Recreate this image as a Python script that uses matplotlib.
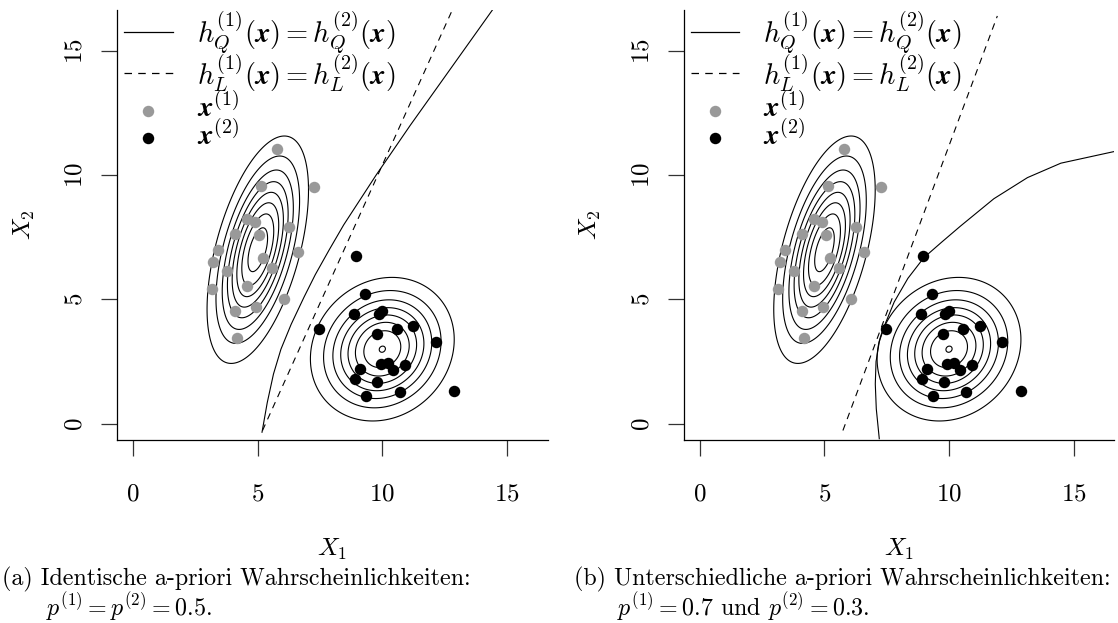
import numpy as np
import matplotlib.pyplot as plt

plt.rcParams['font.family'] = 'serif'
plt.rcParams['font.serif'] = ['cmr10']
plt.rcParams['mathtext.fontset'] = 'cm'
plt.rcParams['axes.formatter.use_mathtext'] = True
plt.rcParams['axes.unicode_minus'] = False

# two normal populations (mean, covariance) and the density levels drawn
mean1 = [5.0, 7.0]
cov1 = [[0.96, 1.13], [1.13, 4.84]]
mean2 = [10.0, 3.0]
cov2 = [[2.0, 0.27], [0.27, 2.0]]
levels = [0.01, 0.02, 0.03, 0.04, 0.05, 0.06, 0.07, 0.08]

# sample of group 1 (grey) and group 2 (black)
g1_x1 = [5.77, 7.26, 5.13, 4.56, 4.90, 6.27, 4.09, 5.05, 3.42, 6.60,
         3.22, 5.21, 5.57, 3.76, 3.15, 4.56, 6.06, 4.09, 4.93, 4.16]
g1_x2 = [11.06, 9.53, 9.58, 8.24, 8.10, 7.92, 7.65, 7.58, 6.99, 6.91,
         6.52, 6.65, 6.25, 6.15, 5.44, 5.55, 5.00, 4.53, 4.70, 3.45]
g2_x1 = [8.95, 9.30, 8.88, 9.85, 10.00, 7.45, 9.77, 10.57, 11.24, 12.14,
         9.93, 10.22, 10.44, 10.93, 9.12, 8.92, 9.79, 10.70, 9.35, 12.88]
g2_x2 = [6.75, 5.20, 4.40, 4.40, 4.55, 3.83, 3.63, 3.83, 3.94, 3.27,
         2.42, 2.44, 2.15, 2.38, 2.19, 1.81, 1.68, 1.27, 1.11, 1.30]

# decision boundaries, equal priors (a) and p = 0.7 / 0.3 (b)
qda_a_x = [5.17, 5.38, 5.63, 5.93, 6.34, 6.86, 7.31, 7.87, 8.45, 9.75,
           11.12, 14.42]
qda_a_y = [-0.34, 0.85, 2.00, 3.00, 4.00, 5.10, 6.00, 7.00, 8.00, 10.00,
           12.00, 16.64]
lda_a_x = [5.19, 12.81]
lda_a_y = [-0.27, 16.64]
qda_b_x = [7.20, 7.08, 7.04, 7.07, 7.20, 7.45, 7.80, 8.35, 8.99, 9.70,
           10.46, 11.80, 13.15, 14.49, 16.64]
qda_b_y = [-0.60, 0.60, 1.60, 2.50, 3.30, 4.05, 4.90, 5.85, 6.68, 7.30,
           7.95, 9.05, 9.90, 10.48, 10.95]
lda_b_x = [5.74, 11.94]
lda_b_y = [-0.27, 16.40]

ticks = [0, 5, 10, 15]
lims = (-0.64, 16.64)
captions = [
    ('(a) Identische a-priori Wahrscheinlichkeiten:',
     r'$p^{(1)} = p^{(2)} = 0.5$.'),
    ('(b) Unterschiedliche a-priori Wahrscheinlichkeiten:',
     r'$p^{(1)} = 0.7$ und $p^{(2)} = 0.3$.'),
]

grey = '#999999'
W, H = 1118, 623


def dnorm2(X, Y, mu, S):
    S = np.asarray(S)
    Si = np.linalg.inv(S)
    dx = X - mu[0]
    dy = Y - mu[1]
    q = Si[0, 0] * dx**2 + 2 * Si[0, 1] * dx * dy + Si[1, 1] * dy**2
    return np.exp(-q / 2) / (2 * np.pi * np.sqrt(np.linalg.det(S)))


g = np.linspace(lims[0], lims[1], 600)
GX, GY = np.meshgrid(g, g)
dens1 = dnorm2(GX, GY, mean1, cov1)
dens2 = dnorm2(GX, GY, mean2, cov2)


def panel(ax, qx, qy, lx, ly):
    ax.contour(GX, GY, dens1, levels=levels, colors='black', linewidths=0.8)
    ax.contour(GX, GY, dens2, levels=levels, colors='black', linewidths=0.8)
    ax.plot(qx, qy, color='black', lw=0.8)
    ax.plot(lx, ly, color='black', lw=0.8, dashes=(6, 5))
    ax.scatter(g1_x1, g1_x2, s=68, color=grey, linewidths=0, zorder=3)
    ax.scatter(g2_x1, g2_x2, s=68, color='black', linewidths=0, zorder=3)

    ax.set_xlim(lims)
    ax.set_ylim(lims)
    ax.set_xticks(ticks)
    ax.set_yticks(ticks)
    for s in ['top', 'right']:
        ax.spines[s].set_visible(False)
    for s in ['left', 'bottom']:
        ax.spines[s].set_linewidth(0.9)
    ax.tick_params(direction='out', length=11.3, width=0.9, color='#333333',
                   labelsize=18)
    ax.tick_params(axis='x', pad=20)
    ax.tick_params(axis='y', pad=11, labelrotation=90)
    plt.setp(ax.get_yticklabels(), va='center')

    ax.text(0.5, -0.255, '$X_1$', transform=ax.transAxes, ha='center',
            va='center', fontsize=18)
    ax.text(-0.217, 0.5, '$X_2$', transform=ax.transAxes, ha='center',
            va='center', rotation=90, fontsize=18)

    # legend
    kw = dict(transform=ax.transAxes, clip_on=False)
    ax.plot([0.0163, 0.1287], [0.9495, 0.9495], color='black', lw=0.9, **kw)
    ax.plot([0.0163, 0.1287], [0.8527, 0.8527], color='black', lw=0.9,
            dashes=(6, 5), **kw)
    ax.scatter([0.072], [0.765], s=68, color=grey, linewidths=0, **kw)
    ax.scatter([0.072], [0.703], s=68, color='black', linewidths=0, **kw)
    tx = 0.1845
    fs = 20.5
    ax.text(tx, 0.9465, r'$h_Q^{(1)}(\mathbfit{x}) = h_Q^{(2)}(\mathbfit{x})$',
            transform=ax.transAxes, va='center', fontsize=fs)
    ax.text(tx, 0.8527, r'$h_L^{(1)}(\mathbfit{x}) = h_L^{(2)}(\mathbfit{x})$',
            transform=ax.transAxes, va='center', fontsize=fs)
    ax.text(tx, 0.772, r'$\mathbfit{x}^{(1)}$', transform=ax.transAxes,
            va='center', fontsize=fs)
    ax.text(tx, 0.707, r'$\mathbfit{x}^{(2)}$', transform=ax.transAxes,
            va='center', fontsize=fs)


fig = plt.figure(figsize=(W / 100, H / 100), dpi=100)
ax_a = fig.add_axes([117.3 / W, (H - 439.7) / H, 430.4 / W, 429.7 / H])
ax_b = fig.add_axes([684.0 / W, (H - 439.7) / H, 430.4 / W, 429.7 / H])

panel(ax_a, qda_a_x, qda_a_y, lda_a_x, lda_a_y)
panel(ax_b, qda_b_x, qda_b_y, lda_b_x, lda_b_y)

# sub-captions
for x0, x1, (l1, l2) in [(2, 46, captions[0]), (574, 617, captions[1])]:
    fig.text(x0 / W, (H - 585) / H, l1, fontsize=17.3, va='baseline')
    fig.text(x1 / W, (H - 615) / H, l2, fontsize=17.3, va='baseline')

fig.savefig('out.png', dpi=100)
